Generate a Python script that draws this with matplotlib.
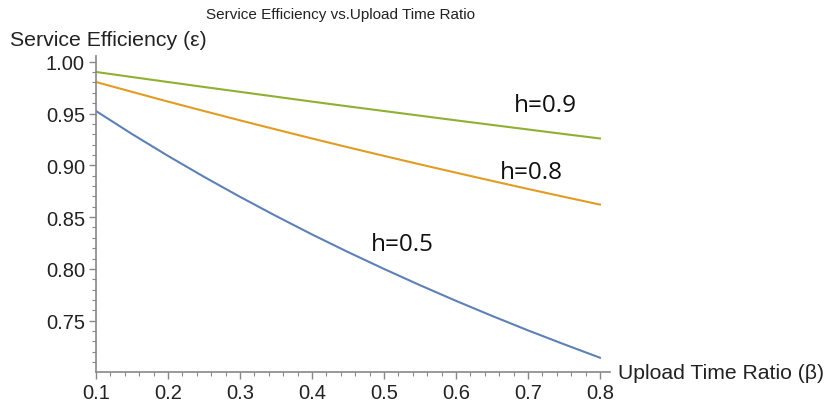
import matplotlib
matplotlib.use('Agg')
import matplotlib.pyplot as plt
from matplotlib.ticker import MultipleLocator

# upload time ratio (beta) and service efficiency for each h
beta = [0.1, 0.15, 0.2, 0.25, 0.3, 0.35, 0.4, 0.45, 0.5, 0.55, 0.6, 0.65, 0.7, 0.75, 0.8]
eff_h05 = [0.9524, 0.9302, 0.9091, 0.8889, 0.8696, 0.8511, 0.8333, 0.8163, 0.8000,
           0.7843, 0.7692, 0.7547, 0.7407, 0.7273, 0.7143]
eff_h08 = [0.9804, 0.9709, 0.9615, 0.9524, 0.9434, 0.9346, 0.9259, 0.9174, 0.9091,
           0.9009, 0.8929, 0.8850, 0.8772, 0.8696, 0.8621]
eff_h09 = [0.9901, 0.9852, 0.9804, 0.9756, 0.9709, 0.9662, 0.9615, 0.9569, 0.9524,
           0.9479, 0.9434, 0.9390, 0.9346, 0.9302, 0.9259]
xticks = [0.1, 0.2, 0.3, 0.4, 0.5, 0.6, 0.7, 0.8]
yticks = [0.75, 0.80, 0.85, 0.90, 0.95, 1.00]
labels = ['h=0.5', 'h=0.8', 'h=0.9']
label_pos = [(0.525, 0.824), (0.705, 0.894), (0.724, 0.958)]
colors = ['#5E81B5', '#E19C24', '#8FB032']

plt.rcParams['font.family'] = ['Liberation Sans', 'DejaVu Sans']

fig = plt.figure(figsize=(8.28, 4.02), dpi=100)
ax = fig.add_axes([96/828, 1 - 373/402, (610 - 96)/828, (373 - 57)/402])

for y, c in zip([eff_h05, eff_h08, eff_h09], colors):
    ax.plot(beta, y, color=c, linewidth=1.5)

for txt, (x, y) in zip(labels, label_pos):
    ax.text(x, y, txt, ha='center', va='center', fontsize=17.5, family='Open Sans', color='#111')

ax.set_xlim(0.1, 0.814)
ax.set_ylim(0.7005, 1.0055)
ax.xaxis.set_minor_locator(MultipleLocator(0.02))
ax.yaxis.set_minor_locator(MultipleLocator(0.01))
ax.set_xticks(xticks)
ax.set_xticklabels([f'{b:.1f}' for b in xticks])
ax.set_yticks(yticks)
ax.set_yticklabels([f'{v:.2f}' for v in yticks])

for s in ['top', 'right']:
    ax.spines[s].set_visible(False)
for s in ['left', 'bottom']:
    ax.spines[s].set_color('#888888')
    ax.spines[s].set_linewidth(1.2)
ax.tick_params(which='major', length=5, width=1, color='#888888', labelsize=14.5, labelcolor='#222222', pad=3)
ax.tick_params(which='minor', length=3, width=0.8, color='#888888')

fig.text(341/828, 1 - 15/402, 'Service Efficiency vs.Upload Time Ratio', ha='center', va='center', fontsize=11, color='#222')
fig.text(10/828, 1 - 40/402, 'Service Efficiency (ε)', ha='left', va='center', fontsize=15.3, color='#222')
fig.text(618/828, 1 - 374/402, 'Upload Time Ratio (β)', ha='left', va='center', fontsize=15.2, color='#222')

fig.savefig('out.png', dpi=100)
